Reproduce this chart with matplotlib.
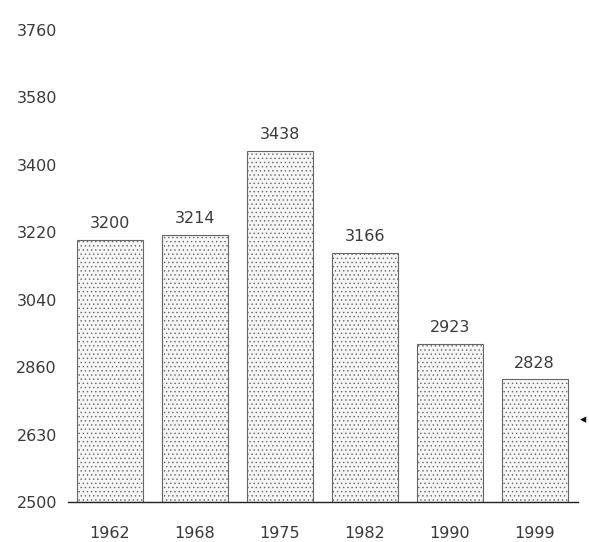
import matplotlib
matplotlib.use("Agg")
import matplotlib.pyplot as plt

years = ["1962", "1968", "1975", "1982", "1990", "1999"]
values = [3200, 3214, 3438, 3166, 2923, 2828]
value_labels = ["3200", "3214", "3438", "3166", "2923", "2828"]
ytick_values = [2500, 2680, 2860, 3040, 3220, 3400, 3580, 3760]
ytick_labels = ["2500", "2630", "2860", "3040", "3220", "3400", "3580", "3760"]

plt.rcParams['font.family'] = ['DejaVu Sans']
plt.rcParams['hatch.linewidth'] = 0.5
plt.rcParams['hatch.color'] = '#a8a8a8'

fig = plt.figure(figsize=(5.89, 5.42), dpi=100)
ax = fig.add_axes([68/589, 40/542, 510/589, 472/542])

x = list(range(len(years)))
bars = ax.bar(x, [v - 2500 for v in values], bottom=2500, width=0.78,
              facecolor='#f6f6f6', edgecolor='#666666', linewidth=0.8,
              hatch='....')
for xi, v, lab in zip(x, values, value_labels):
    ax.annotate(lab, (xi, v), xytext=(0, 6), textcoords='offset points',
                ha='center', va='bottom', fontsize=11.5, color='#3a3a3a')

ax.set_xlim(-0.49, 5.51)
ax.set_ylim(2500, 3760)
ax.set_yticks(ytick_values)
ax.set_yticklabels(ytick_labels)
ax.set_xticks(x)
ax.set_xticklabels(years)
ax.tick_params(axis='both', length=0, labelsize=11.5, labelcolor='#3a3a3a')
ax.tick_params(axis='y', pad=8)
ax.tick_params(axis='x', pad=17)
for s in ['left', 'right', 'top']:
    ax.spines[s].set_visible(False)
ax.spines['bottom'].set_color('#222222')
ax.spines['bottom'].set_linewidth(1.0)

fig.text(583/589, 1 - 420/542, '\u25c2', fontsize=9, color='#111111', ha='center', va='center')

fig.savefig("out.png", dpi=100)
